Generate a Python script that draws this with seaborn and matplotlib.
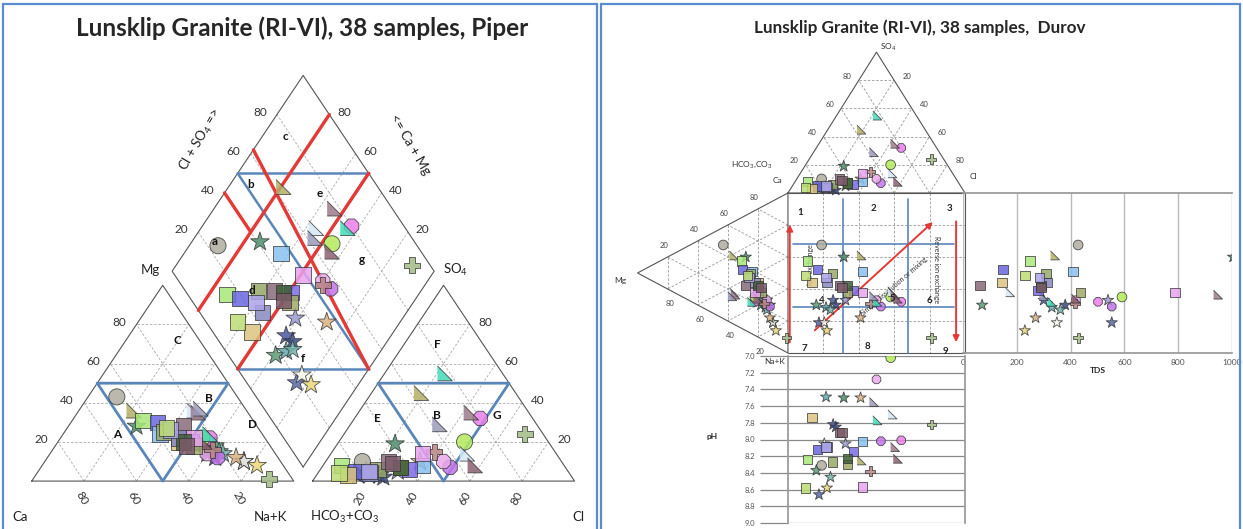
import numpy as np
import pandas as pd
import seaborn as sns
import matplotlib.pyplot as plt
from matplotlib.patches import Rectangle

sns.set_theme(style='white')
plt.rcParams['font.family'] = ['Lato', 'DejaVu Sans']
plt.rcParams['mathtext.default'] = 'regular'

# ---- sample data (meq %), TDS (mg/l) and pH ----
shape = ['o', 'P', 'rt', 's', 's', 's', 's', 's', 's', 'rt',
         's', 's', 's', 's', 'rt', '*', '*', '8', '*', '8',
         'o', '*', 'P', 'rt', '*', '*', '*', '*', '*', '*',
         '*', 'rt', 'rt', 's', 's', '8', 's', 's']
color = ['#b0aca0', '#a3bb85', '#b4ae68', '#a8e878', '#6a66e0', '#88c0f0', '#98a868', '#dcc480', '#8a6a7a', '#d4e8f6',
         '#8888c0', '#7c6ce8', '#a0a868', '#e8a4f0', '#9c7a8a', '#4e8e6c', '#5c9c74', '#ea80ea', '#9a9ad0', '#c474ea',
         '#b4ea5c', '#5a6aaa', '#b88484', '#8c6272', '#64aab2', '#4c5aa2', '#3a4a82', '#74b4ac', '#f4f4e6', '#ead678',
         '#dab282', '#44dab8', '#9a9aba', '#3e5e34', '#aca4ea', '#eaaaea', '#bcdc74', '#7c5a6a']
ca   = [46, 9, 43, 42, 37, 39, 37, 34, 28, 20, 33, 29, 29, 27, 19, 46, 21, 21, 25, 23,
        24, 14, 23, 24, 21, 26, 24, 20, 14, 10, 16, 20, 17, 32, 34, 26, 35, 32]
mg   = [43, 1, 36, 31, 30, 24, 25, 20, 28, 36, 22, 20, 18, 22, 35, 28, 18, 22, 16, 12,
        22, 10, 16, 20, 15, 14, 12, 14, 10, 8, 12, 24, 37, 20, 26, 14, 27, 18]
nak  = [11, 90, 21, 27, 33, 37, 38, 46, 44, 44, 45, 51, 53, 51, 46, 26, 61, 57, 59, 65,
        54, 76, 61, 56, 64, 60, 64, 66, 76, 82, 72, 56, 46, 48, 40, 60, 38, 50]
hco3 = [76, 7, 36, 85, 81, 54, 72, 85, 66, 34, 76, 60, 63, 51, 22, 59, 82, 20, 65, 44,
        32, 81, 46, 34, 77, 73, 72, 74, 77, 76, 54, 22, 37, 63, 76, 45, 88, 65]
so4  = [10, 24, 45, 8, 5, 8, 6, 3, 10, 14, 4, 6, 7, 14, 35, 19, 4, 32, 5, 7,
        20, 3, 15, 8, 3, 3, 2, 4, 5, 4, 10, 55, 29, 7, 5, 10, 4, 9]
cl   = [14, 69, 19, 7, 14, 38, 22, 12, 24, 52, 20, 34, 30, 35, 43, 22, 14, 48, 30, 49,
        48, 16, 39, 58, 20, 24, 26, 22, 18, 20, 36, 23, 34, 30, 19, 45, 8, 26]
tds  = [428, 428, 342, 249, 149, 409, 308, 145, 63, 175, 312, 279, 438, 788, 948, 1004, 71, 502, 539, 553,
        591, 553, 416, 420, 330, 300, 380, 362, 349, 230, 270, 330, 300, 290, 285, 420, 230, 290]
ph   = [8.31, 7.82, 8.25, 8.24, 8.12, 8.02, 8.27, 7.74, 7.92, 7.70, 8.09, 8.14, 8.30, 8.57, 8.09, 7.50, 8.37, 8.01, 8.05, 8.02,
        7.02, 8.66, 8.38, 8.23, 7.49, 7.82, 7.85, 8.45, 8.05, 8.58, 7.50, 7.77, 7.55, 8.23, 8.09, 7.28, 8.58, 7.92]

df = pd.DataFrame({'shape': shape, 'ca': ca, 'mg': mg, 'nak': nak,
                   'hco3': hco3, 'so4': so4, 'cl': cl, 'tds': tds, 'ph': ph})
df['name'] = ['S%02d' % (i + 1) for i in range(len(df))]
pal = dict(zip(df['name'], color))

S3 = np.sqrt(3) / 2
G = 0.072          # gap between the Piper triangles
TH, LW = 0.88, 0.85  # Durov triangle heights (square units)

# fractions
cs = df.ca + df.mg + df.nak
ans = df.hco3 + df.so4 + df.cl
fmg, fnak = df.mg / cs, df.nak / cs
fso4, fcl = df.so4 / ans, df.cl / ans
c_cm = (df.ca + df.mg) / cs
m_cs = (df.cl + df.so4) / ans

# Piper coordinates
df['cx'] = fnak + fmg / 2
df['cy'] = fmg * S3
df['ax'] = 1 + G + fcl + fso4 / 2
df['ay'] = fso4 * S3
df['dx'] = 1 + G / 2 + 0.5 * (m_cs - c_cm)
df['dy'] = G * S3 + S3 * (m_cs + c_cm)
# Durov coordinates
df['sx'] = fcl + fso4 / 2
df['sy'] = fnak + fmg / 2
df['ty'] = -fso4 * TH
df['lx'] = -fmg * LW

MARKERS = {'o': 'o', 's': 's', '*': '*', 'P': 'P', '8': '8', 'rt': [(-1, -1), (1, -1), (-1, 1)]}
SIZES = {'o': 135, 's': 125, '*': 200, 'P': 135, '8': 125, 'rt': 115}


def draw_points(ax, xcol, ycol, scale):
    for shp, grp in df.groupby('shape'):
        sns.scatterplot(data=grp, x=xcol, y=ycol, hue='name', palette=pal,
                        marker=MARKERS[shp], s=SIZES[shp] * scale, edgecolor='#333333',
                        linewidth=0.6, alpha=0.85, legend=False, ax=ax, zorder=3)


def dia(m, c):
    return 1 + G / 2 + 0.5 * (m - c), G * S3 + S3 * (m + c)


fig = plt.figure(figsize=(12.43, 5.29), dpi=100)
OUT = dict(color='#555555', lw=0.8, zorder=2)
GRID = dict(color='#aaaaaa', lw=0.6, ls=(0, (3, 2)), zorder=1)
BLUE = '#5a86ba'
RED = '#e53935'

# ================= Piper =================
ax = fig.add_axes([0, 0, 600 / 1243, 1])
ax.set_xlim(-0.121, 2.169)
ax.set_ylim(-0.212, 2.128)
ax.axis('off')

for x0 in [0, 1 + G]:
    ax.plot([x0, x0 + 1, x0 + 0.5, x0], [0, 0, S3, 0], **OUT)
    for f in [0.2, 0.4, 0.6, 0.8]:
        ax.plot([x0 + f / 2, x0 + 1 - f / 2], [f * S3, f * S3], **GRID)
        ax.plot([x0 + f, x0 + f + (1 - f) / 2], [0, (1 - f) * S3], **GRID)
        ax.plot([x0 + 1 - f, x0 + (1 - f) / 2], [0, (1 - f) * S3], **GRID)
    # blue inner triangle
    ax.plot([x0 + 0.25, x0 + 0.75, x0 + 0.5, x0 + 0.25], [S3 / 2, S3 / 2, 0, S3 / 2], color=BLUE, lw=2, zorder=2)

corn = [dia(*p) for p in [(0, 0), (0, 1), (1, 1), (1, 0), (0, 0)]]
ax.plot([p[0] for p in corn], [p[1] for p in corn], **OUT)
for f in [0.2, 0.4, 0.6, 0.8]:
    for a, b in [((f, 0), (f, 1)), ((0, f), (1, f))]:
        p, q = dia(*a), dia(*b)
        ax.plot([p[0], q[0]], [p[1], q[1]], **GRID)
# blue hourglass
for a, b in [((0.5, 1), (1, 0.5)), ((0, 0.5), (0.5, 0)), ((0.5, 1), (0.5, 0)), ((1, 0.5), (0, 0.5))]:
    p, q = dia(*a), dia(*b)
    ax.plot([p[0], q[0]], [p[1], q[1]], color=BLUE, lw=1.8, zorder=2)
# red lines
for a, b in [((0, 0.8), (1, 0.8)), ((0, 0.5), (1, 0.5)), ((0.62, 1), (0.5, 0)), ((0.4, 1), (0.4, 0.8))]:
    p, q = dia(*a), dia(*b)
    ax.plot([p[0], q[0]], [p[1], q[1]], color=RED, lw=2.4, zorder=2.5)

TK = dict(fontsize=8.5, color='#333333', ha='center', va='center')
for f in [0.2, 0.4, 0.6, 0.8]:
    lab = str(int(round(f * 100)))
    ax.text(f / 2 - 0.065, f * S3 + 0.01, lab, **TK)                      # Mg
    ax.text(1 - f - 0.01, -0.075, lab, rotation=-60, **TK)                # Ca
    ax.text(2 + G - f / 2 + 0.06, f * S3 + 0.01, lab, **TK)              # SO4
    ax.text(1 + G + f - 0.02, -0.075, lab, rotation=60, **TK)             # Cl
    p = dia(f, 1)
    ax.text(p[0] - 0.065, p[1] + 0.01, lab, **TK)                         # Cl+SO4
    p = dia(1, f)
    ax.text(p[0] + 0.055, p[1] + 0.01, lab, **TK)                         # Ca+Mg

AX = dict(fontsize=9.5, color='#222222', ha='center', va='center')
ax.text(0.452, 0.934, 'Mg', **AX)
ax.text(1.616, 0.934, 'SO$_4$', **AX)
ax.text(-0.045, -0.159, 'Ca', **AX)
ax.text(0.910, -0.159, 'Na+K', **AX)
ax.text(1.196, -0.159, 'HCO$_3$+CO$_3$', **AX)
ax.text(2.085, -0.159, 'Cl', **AX)
ax.text(0.643, 1.509, 'Cl + SO$_4$ =>', rotation=60, **AX)
ax.text(1.444, 1.487, '<= Ca + Mg', rotation=-60, **AX)

RG = dict(fontsize=8.5, fontweight='bold', color='#111111', ha='center', va='center', zorder=4)
for t, x, y in [('A', 0.326, 0.204), ('B', 0.677, 0.367), ('C', 0.555, 0.624), ('D', 0.841, 0.252),
                ('E', 1.318, 0.279), ('F', 1.547, 0.602), ('B', 1.547, 0.292), ('G', 1.776, 0.292),
                ('a', 0.700, 1.058), ('b', 0.837, 1.310), ('c', 0.967, 1.522), ('d', 0.841, 0.845),
                ('e', 1.100, 1.274), ('f', 1.035, 0.544), ('g', 1.261, 0.978)]:
    ax.text(x, y, t, **RG)

draw_points(ax, 'cx', 'cy', 1)
draw_points(ax, 'ax', 'ay', 1)
draw_points(ax, 'dx', 'dy', 1)

# ================= Durov =================
ad = fig.add_axes([600 / 1243, 0, 643 / 1243, 1])
ad.set_xlim(-1.062, 2.571)
ad.set_ylim(2.1, -1.206)
ad.axis('off')

ad.plot([0, 1, 0.5, 0], [0, 0, -TH, 0], **OUT)
ad.plot([0, -LW, 0, 0], [0, 0.5, 1, 0], **OUT)
ad.plot([0, 1, 1, 0], [0, 0, 1, 1], **OUT)
DG = dict(color='#999999', lw=0.6, ls=(0, (3, 2)), zorder=1)
for f in [0.2, 0.4, 0.6, 0.8]:
    ad.plot([f / 2, 1 - f / 2], [-f * TH, -f * TH], **DG)
    ad.plot([f, f + (1 - f) / 2], [0, -(1 - f) * TH], **DG)
    ad.plot([1 - f, (1 - f) / 2], [0, -(1 - f) * TH], **DG)
    ad.plot([-f * LW, -f * LW], [f / 2, 1 - f / 2], **DG)
    ad.plot([0, -(1 - f) * LW], [f, f + (1 - f) / 2], **DG)
    ad.plot([0, -(1 - f) * LW], [1 - f, (1 - f) / 2], **DG)
    ad.plot([f, f], [0, 1], **DG)
    ad.plot([0, 1], [f, f], **DG)
    lab = str(int(round(f * 100)))
    rlab = str(int(round(100 - f * 100)))
    SM = dict(fontsize=5.5, color='#444444', ha='center', va='center')
    ad.text(f / 2 - 0.065, -f * TH - 0.025, lab, **SM)
    ad.text(1 - f / 2 + 0.07, -f * TH - 0.025, rlab, **SM)
    ad.text(-f * LW - 0.02, f / 2 - 0.07, rlab, **SM)
    ad.text(-f * LW + 0.015, 1 - f / 2 + 0.09, lab, **SM)

for v in [0.31, 0.68]:
    ad.plot([v, v], [0.04, 1.0], color=BLUE, lw=1.2, zorder=2)
for h in [0.32, 0.71]:
    ad.plot([0.03, 0.94], [h, h], color=BLUE, lw=1.2, zorder=2)
ARW = dict(arrowstyle='-|>', color=RED, lw=1.4, mutation_scale=9)
ad.annotate('', xy=(0.01, 0.18), xytext=(0.01, 0.95), arrowprops=ARW, zorder=2.5)
ad.annotate('', xy=(0.83, 0.17), xytext=(0.14, 0.87), arrowprops=ARW, zorder=2.5)
ad.annotate('', xy=(0.95, 0.95), xytext=(0.95, 0.16), arrowprops=ARW, zorder=2.5)
TX = dict(fontsize=5, color='#333333', ha='center', va='center')
ad.text(0.13, 0.45, 'Ion exchange', rotation=90, **TX)
ad.text(0.60, 0.58, 'Simple dissolution or mixing', rotation=41, **TX)
ad.text(0.84, 0.48, 'Reverse ion exchange', rotation=-90, **TX)
for t, x, y in [('1', 0.07, 0.125), ('2', 0.48, 0.094), ('3', 0.91, 0.094), ('4', 0.19, 0.67), ('5', 0.59, 0.66),
                ('6', 0.80, 0.67), ('7', 0.09, 0.97), ('8', 0.45, 0.96), ('9', 0.89, 0.99)]:
    ad.text(x, y, t, fontsize=7, fontweight='bold', color='#222222', ha='center', va='center', zorder=4)

LB = dict(fontsize=6, color='#333333', ha='center', va='center')
ad.text(0.565, -0.91, 'SO$_4$', **LB)
ad.text(-0.203, -0.175, 'HCO$_3$,CO$_3$', **LB)
ad.text(-0.062, -0.08, 'Ca', **LB)
ad.text(1.045, -0.10, 'Cl', **LB)
ad.text(-0.95, 0.55, 'Mg', **LB)
ad.text(-0.073, 1.056, 'Na+K', **LB)

DS = 0.36
draw_points(ad, 'sx', 'ty', DS)
draw_points(ad, 'lx', 'sy', DS)
draw_points(ad, 'sx', 'sy', DS)

# TDS panel
at = fig.add_axes([963 / 1243, (529 - 353) / 529, 269 / 1243, 160 / 529])
at.set_xlim(0, 1000)
at.set_ylim(1, 0)
at.set_xticks(range(0, 1001, 200))
at.set_yticks([])
at.grid(axis='x', color='#bbbbbb', lw=1)
at.tick_params(axis='x', labelsize=6, colors='#555555', length=0, pad=4)
for s in ['left', 'right']:
    at.spines[s].set_visible(False)
for s in ['top', 'bottom']:
    at.spines[s].set_color('#999999')
at.set_facecolor('none')
draw_points(at, 'tds', 'sy', DS)
at.set_ylabel('')
at.set_xlabel('TDS', fontsize=6, fontweight='bold', labelpad=1)

# pH panel
ap = fig.add_axes([788 / 1243, (529 - 523) / 529, 177 / 1243, 167 / 529])
ap.set_xlim(0, 1)
ap.set_ylim(9.0, 7.0)
ap.set_yticks(np.arange(7.0, 9.01, 0.2))
ap.set_yticklabels(['%.1f' % v for v in np.arange(7.0, 9.01, 0.2)])
ap.set_xticks([])
ap.grid(axis='y', color='#888888', lw=0.9)
ap.tick_params(axis='y', labelsize=5.5, colors='#555555', length=20, width=0.9, pad=4, left=True)
ap.tick_params(axis='y', color='#888888')
for s in ['top', 'bottom']:
    ap.spines[s].set_visible(False)
for s in ['left', 'right']:
    ap.spines[s].set_color('#999999')
ap.set_facecolor('none')
draw_points(ap, 'sx', 'ph', DS)
ap.set_xlabel('')
ap.set_ylabel('')
fig.text(712 / 1243, 1 - 437 / 529, 'pH', fontsize=6, fontweight='bold', ha='center', va='center')

# titles and panel frames
fig.text(302 / 1243, 1 - 28 / 529, 'Lunsklip Granite (RI-VI), 38 samples, Piper',
         fontsize=17.5, fontweight='bold', ha='center', va='center')
fig.text(920 / 1243, 1 - 28 / 529, 'Lunsklip Granite (RI-VI), 38 samples,  Durov',
         fontsize=12.3, fontweight='bold', ha='center', va='center')
for x0, x1 in [(3, 597), (601, 1240)]:
    fig.add_artist(Rectangle((x0 / 1243, -0.02), (x1 - x0) / 1243, 1.02 - 4 / 529,
                             transform=fig.transFigure, fill=False, ec='#5b8bd0', lw=1.6))

fig.savefig('out.png', dpi=100)
